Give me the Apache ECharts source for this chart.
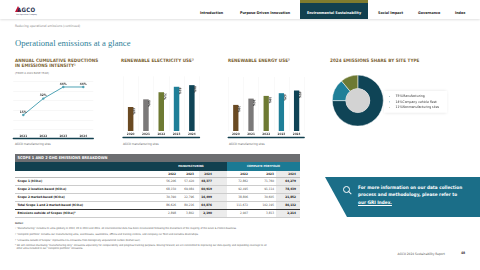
<!DOCTYPE html>
<html>
<head>
<meta charset="utf-8">
<script src="https://cdn.jsdelivr.net/npm/echarts@6/dist/echarts.min.js"></script>
<style>
  body { margin: 0; }
  #page { position: relative; width: 480px; height: 270px; overflow: hidden; background: #fff;
    font-family: 'DejaVu Sans Condensed', 'DejaVu Sans', sans-serif; color: #333; }
  .abs { position: absolute; white-space: nowrap; }
  .nav { top: 10.5px; font-size: 3.7px; font-weight: bold; color: #222; line-height: 4px; }
  .ctitle { font-size: 4.6px; font-weight: bold; color: #7b6233; line-height: 5.6px; letter-spacing: 0.05px; }
  .foot { font-size: 3px; color: #666; }
  #chart { position: absolute; left: 0; top: 0; width: 480px; height: 270px; }
  .cell { position: absolute; font-size: 3.1px; line-height: 8px; white-space: nowrap; }
  .note { font-size: 2.55px; color: #555; line-height: 3px; }
</style>
</head>
<body>
<div id="page">
  <!-- header -->
  <div class="abs" style="left:0;top:0;width:480px;height:19px;box-shadow:0 1px 2px rgba(0,0,0,0.12);background:#fff"></div>
  <div class="abs" style="left:15px;top:6px;width:0;height:0;border-left:3px solid transparent;border-right:3px solid transparent;border-bottom:6px solid #c8102e"></div>
  <div class="abs" style="left:17px;top:7.2px;font-size:6px;font-weight:bold;color:#1d2d4c;letter-spacing:0.3px;line-height:6px">AGCO</div>
  <div class="abs" style="left:16px;top:13.2px;font-size:1.8px;color:#1d2d4c;line-height:2px">Your Agriculture Company</div>
  <div class="abs nav" style="left:200px">Introduction</div>
  <div class="abs nav" style="left:240px">Purpose-Driven Innovation</div>
  <div class="abs" style="left:300px;top:0;width:68px;height:19px;background:#12404f"></div>
  <div class="abs" style="left:300px;top:0;width:68px;height:2.5px;background:#7f7b2e"></div>
  <div class="abs nav" style="left:300px;width:68px;text-align:center;color:#fff">Environmental Sustainability</div>
  <div class="abs nav" style="left:378px">Social Impact</div>
  <div class="abs nav" style="left:418px">Governance</div>
  <div class="abs nav" style="left:455px">Index</div>

  <div class="abs" style="left:15px;top:24.3px;font-size:3.3px;color:#888">Reducing operational emissions (continued)</div>
  <div class="abs" style="left:15px;top:37.5px;font-size:8.6px;color:#2f7f99;font-family:'Liberation Serif',serif;line-height:10px">Operational emissions at a glance</div>

  <!-- chart titles -->
  <div class="abs ctitle" style="left:15px;top:57.8px">ANNUAL CUMULATIVE REDUCTIONS<br>IN EMISSIONS INTENSITY¹</div>
  <div class="abs" style="left:15px;top:70.8px;font-size:2.8px;color:#777">(FROM A 2020 BASE YEAR)</div>
  <div class="abs ctitle" style="left:121px;top:57.8px">RENEWABLE ELECTRICITY USE²</div>
  <div class="abs ctitle" style="left:228px;top:57.8px">RENEWABLE ENERGY USE²</div>
  <div class="abs ctitle" style="left:330px;top:57.8px">2024 EMISSIONS SHARE BY SITE TYPE</div>
  <div class="abs foot" style="left:15px;top:141.5px">AGCO manufacturing sites</div>
  <div class="abs foot" style="left:123px;top:141.5px">AGCO manufacturing sites</div>
  <div class="abs foot" style="left:229px;top:141.5px">AGCO manufacturing sites</div>

  <!-- table -->
  <div id="table"></div>

  <!-- notes -->
  <div class="abs note" style="left:15px;top:221.5px;font-weight:bold">Notes:</div>
  <div class="abs note" style="left:15px;top:227.2px">¹ “Manufacturing” includes 21 sites globally in 2022, 20 in 2023 and 2024. All environmental data has been recalculated following the divestiture of the majority of the Grain &amp; Protein business.</div>
  <div class="abs note" style="left:15px;top:232.8px">² “Complete portfolio” includes our manufacturing sites, warehouses, assemblies, offices and training centers, and company car fleet and excludes dealerships.</div>
  <div class="abs note" style="left:15px;top:238.5px">³ “Emissions outside of Scopes” represents CO₂ emissions from biologically sequestered carbon (biofuel use).</div>
  <div class="abs note" style="left:15px;top:244px">⁴ We will continue disclosing “manufacturing only” emissions separately for comparability and progress tracking purposes. Moving forward, we are committed to improving our data quality and expanding coverage to all<br>&nbsp;&nbsp;other sites included in our “complete portfolio” emissions.</div>

  <!-- call to action -->
  <div class="abs" style="left:325px;top:177px;width:155px;height:40px;background:#1b6e88;clip-path:polygon(0 0,100% 0,100% 100%,22px 100%)"></div>
  <div class="abs" style="left:342.5px;top:186px;width:5px;height:5px;border:0.8px solid #fff;border-radius:50%"></div>
  <div class="abs" style="left:348px;top:191.5px;width:3.5px;height:0.9px;background:#fff;transform:rotate(45deg)"></div>
  <div class="abs" style="left:358px;top:184px;font-size:4.7px;font-weight:bold;color:#fff;line-height:7.4px">For more information on our data collection<br>process and methodology, please refer to<br><span style="text-decoration:underline">our GRI Index.</span></div>

  <div class="abs" style="left:397.5px;top:251.5px;font-size:3.2px;color:#555">AGCO 2024 Sustainability Report</div>
  <div class="abs" style="left:461px;top:251.3px;font-size:3.4px;font-weight:bold;color:#333">48</div>

  <div id="chart"></div>
</div>
<script>
  // chart data
  const lineYears = ['2021', '2022', '2023', '2024']
  const intensityReduction = [15, 32, 44, 44]
  const barYears = ['2020', '2021', '2022', '2023', '2024']
  const electricityShare = [44, 58, 71, 81, 84]
  const energyShare = [29, 36, 39, 42, 45]
  const siteTypes = ['Manufacturing', 'Company vehicle fleet', 'Nonmanufacturing sites']
  const siteShare = [75, 14, 11]

  // table data
  const tableYears = ['2022', '2023', '2024']
  const rowLabels = [
    'Scope 1 (tCO₂e)',
    'Scope 2 location-based (tCO₂e)',
    'Scope 2 market-based (tCO₂e)',
    'Total Scope 1 and 2 market-based (tCO₂e)',
    'Emissions outside of Scopes (tCO₂e)³'
  ]
  const manufacturing = [
    ['56,206', '57,420', '48,377'],
    ['68,150', '69,084', '60,919'],
    ['30,390', '22,796', '16,499'],
    ['86,626', '80,216', '64,876'],
    ['2,898', '3,802', '2,190']
  ]
  const portfolio = [
    ['72,862', '71,760', '64,279'],
    ['92,495', '91,114', '78,439'],
    ['38,806', '30,605', '21,852'],
    ['111,672', '102,195', '86,132'],
    ['2,907', '3,813', '2,214']
  ]

  const barColors = ['#6a4a22', '#7b7979', '#6e7a33', '#1f7f98', '#0f4456']
  const pieColors = ['#0f4456', '#1f7f98', '#6e7a33']
  const teal = '#12404f'

  // --- table (html) ---
  function buildTable() {
    const t = document.getElementById('table')
    const add = (html, style) => {
      const d = document.createElement('div')
      d.className = 'cell'
      d.style.cssText = style
      d.innerHTML = html
      t.appendChild(d)
    }
    add('', 'left:15px;top:154px;width:285px;height:8px;background:#6d6e71')
    add('SCOPE 1 AND 2 GHG EMISSIONS BREAKDOWN', 'left:17.5px;top:154px;color:#fff;font-weight:bold;font-size:3.9px')
    add('', 'left:15px;top:162px;width:212px;height:8.5px;background:' + teal)
    add('', 'left:227px;top:162px;width:73px;height:8.5px;background:#1b7a94')
    add('MANUFACTURING', 'left:155px;width:72px;top:162.3px;text-align:center;color:#fff;font-weight:bold;font-size:2.9px')
    add('COMPLETE PORTFOLIO', 'left:227px;width:73px;top:162.3px;text-align:center;color:#fff;font-weight:bold;font-size:2.9px')
    // highlight columns for 2024
    add('', 'left:199px;top:170.5px;width:28px;height:47px;background:#ececec')
    add('', 'left:276px;top:170.5px;width:24px;height:47px;background:#ececec')
    const colRight = [176, 194, 212, 248, 274, 296]
    const rowTop = [170.5, 177.3, 185.3, 193.3, 201.3, 209.3]
    tableYears.concat(tableYears).forEach((y, i) => {
      add(y, 'left:' + (colRight[i] - 20) + 'px;width:20px;text-align:right;top:' + (rowTop[0] - 0.8) + 'px;font-weight:bold')
    })
    add('', 'left:15px;top:' + (rowTop[1] - 0.3) + 'px;width:285px;height:0.4px;background:#bbb')
    rowLabels.forEach((lab, r) => {
      const top = rowTop[r + 1]
      add(lab, 'left:17.5px;top:' + top + 'px;font-weight:bold;color:#222')
      const vals = manufacturing[r].concat(portfolio[r])
      vals.forEach((v, i) => {
        const bold = i === 2 || i === 5
        add(v, 'left:' + (colRight[i] - 20) + 'px;width:20px;text-align:right;top:' + top + 'px;' + (bold ? 'font-weight:bold;color:#222' : 'color:#555'))
      })
      const line = r === 3 ? 'height:0.7px;background:#333' : 'height:0.4px;background:#ccc'
      add('', 'left:15px;top:' + (top + 7.7) + 'px;width:285px;' + line)
    })
  }
  buildTable()

  // --- charts (echarts) ---
  const chart = echarts.init(document.getElementById('chart'), null, { renderer: 'canvas' })
  const font = 'DejaVu Sans Condensed'
  const baseAxis = (gridIndex, offset) => ({
    type: 'category', gridIndex, data: [], position: 'bottom', offset,
    axisLine: { show: true, lineStyle: { color: teal, width: 1.3 } },
    axisTick: { show: false }, axisLabel: { show: false }
  })
  const yearAxis = (gridIndex, data, margin) => ({
    type: 'category', gridIndex, data,
    axisLine: { show: false }, axisTick: { show: false },
    axisLabel: { fontSize: 3.1, color: '#444', margin, fontFamily: font, fontWeight: 'bold' },
    splitLine: { show: gridIndex > 0, lineStyle: { color: '#f3f3f3', width: 0.5 } }
  })
  const valueAxis = (gridIndex, max, interval, split) => ({
    type: 'value', gridIndex, min: 0, max, interval, show: true,
    axisLine: { show: false }, axisTick: { show: false }, axisLabel: { show: false },
    splitLine: { show: split, lineStyle: { color: '#eeeeee', width: 0.5 } }
  })
  const barLabel = {
    show: true, position: ['100%', 0], offset: [0.8, 1], rotate: -90,
    align: 'left', verticalAlign: 'bottom',
    fontSize: 3.1, fontWeight: 'bold', color: '#333', fontFamily: font,
    formatter: '{c}%'
  }
  const pieCenter = [357.8, 100.6]

  chart.setOption({
    animation: false,
    textStyle: { fontFamily: font },
    grid: [
      { left: 13.3, top: 81.2, width: 80, height: 48.3 },
      { left: 123, top: 76.4, width: 76.5, height: 54.6 },
      { left: 228.2, top: 77, width: 76, height: 54 }
    ],
    xAxis: [
      yearAxis(0, lineYears, 5),
      yearAxis(1, barYears, 1.6),
      yearAxis(2, barYears, 1.6),
      baseAxis(0, 8.8),
      baseAxis(1, 6.5),
      baseAxis(2, 6.5)
    ],
    yAxis: [
      valueAxis(0, 50, 10, true),
      valueAxis(1, 100, 20, false),
      valueAxis(2, 60, 20, false)
    ],
    legend: {
      orient: 'vertical', left: 384, top: 91,
      data: siteTypes, icon: 'rect', itemWidth: 2.6, itemHeight: 2.6, itemGap: 1,
      padding: [3, 8, 3, 3], backgroundColor: '#fff',
      shadowBlur: 3, shadowColor: 'rgba(0,0,0,0.12)',
      textStyle: {
        fontSize: 3.4, lineHeight: 3.6, color: '#333', fontFamily: font,
        rich: { p: { width: 7, fontSize: 3.4, fontFamily: font, color: '#333' }, n: { fontSize: 3.4, fontFamily: font, color: '#333' } }
      },
      formatter: name => '{p|' + siteShare[siteTypes.indexOf(name)] + '%}{n|' + name + '}'
    },
    series: [
      {
        type: 'line', xAxisIndex: 0, yAxisIndex: 0, data: intensityReduction,
        color: '#4fa3b5', lineStyle: { width: 1 }, symbol: 'circle', symbolSize: 2.4,
        label: { show: true, position: 'top', distance: 0.3, fontSize: 3.2, fontWeight: 'bold', color: '#333', formatter: '{c}%' }
      },
      {
        type: 'bar', xAxisIndex: 1, yAxisIndex: 1, barWidth: 5.5,
        data: electricityShare.map((v, i) => ({ value: v, itemStyle: { color: barColors[i] } })),
        label: barLabel
      },
      {
        type: 'bar', xAxisIndex: 2, yAxisIndex: 2, barWidth: 5.3,
        data: energyShare.map((v, i) => ({ value: v, itemStyle: { color: barColors[i] } })),
        label: barLabel
      },
      {
        type: 'pie', center: pieCenter, radius: [12, 25.5], startAngle: 90, clockwise: true,
        label: { show: false }, labelLine: { show: false },
        itemStyle: { borderColor: '#fff', borderWidth: 0.5 },
        data: siteTypes.map((n, i) => ({ name: n, value: siteShare[i], itemStyle: { color: pieColors[i] } }))
      },
      {
        type: 'pie', center: pieCenter, radius: [0, 12], silent: true,
        label: { show: false }, labelLine: { show: false },
        data: [{ name: 'core', value: 1, itemStyle: { color: '#d3d3d3' } }]
      }
    ]
  })
</script>
</body>
</html>
